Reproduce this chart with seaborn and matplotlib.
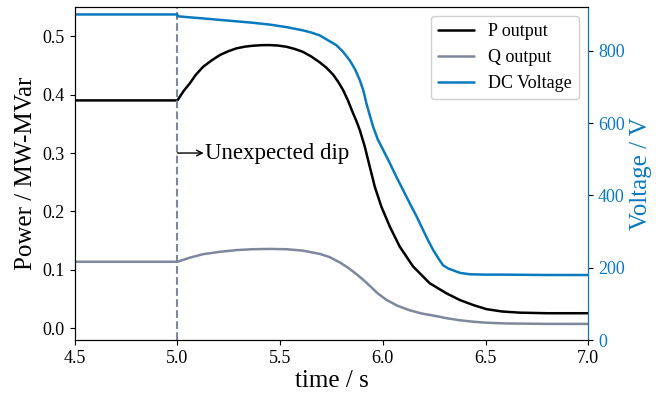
import numpy as np
import matplotlib
matplotlib.use("Agg")
import matplotlib.pyplot as plt
import seaborn as sns

# values
t_p = [4.5, 5.0, 5.03, 5.06, 5.09, 5.125, 5.165, 5.206, 5.247, 5.287, 5.33, 5.368,
       5.41, 5.449, 5.49, 5.531, 5.571, 5.611, 5.652, 5.693, 5.725, 5.758, 5.782, 5.806,
       5.83, 5.855, 5.872, 5.888, 5.912, 5.936, 5.961, 5.993, 6.034, 6.082, 6.147, 6.228,
       6.31, 6.374, 6.44, 6.504, 6.58, 6.666, 6.8, 7.0]
p_out = [0.39, 0.39, 0.406, 0.419, 0.434, 0.4475, 0.458, 0.4675, 0.474, 0.479, 0.482, 0.4835,
         0.4845, 0.4846, 0.4838, 0.4817, 0.478, 0.473, 0.465, 0.455, 0.446, 0.434, 0.422, 0.408,
         0.39, 0.368, 0.354, 0.339, 0.311, 0.277, 0.242, 0.208, 0.174, 0.140, 0.106, 0.0773,
         0.060, 0.0487, 0.040, 0.033, 0.029, 0.027, 0.026, 0.026]

t_q = [4.5, 5.0, 5.06, 5.125, 5.206, 5.287, 5.368, 5.449, 5.531, 5.611, 5.693, 5.741,
       5.79, 5.83, 5.871, 5.905, 5.936, 5.975, 6.017, 6.07, 6.131, 6.19, 6.261, 6.31,
       6.374, 6.44, 6.504, 6.6, 6.8, 7.0]
q_out = [0.114, 0.114, 0.121, 0.127, 0.131, 0.134, 0.1355, 0.136, 0.1355, 0.133, 0.1275, 0.122,
         0.113, 0.104, 0.093, 0.083, 0.073, 0.060, 0.049, 0.039, 0.031, 0.0255, 0.021, 0.0175,
         0.014, 0.0115, 0.0098, 0.0085, 0.0078, 0.0077]

t_v = [4.5, 5.0, 5.0, 5.06, 5.125, 5.206, 5.287, 5.368, 5.449, 5.531, 5.611, 5.652,
       5.693, 5.741, 5.774, 5.806, 5.839, 5.865, 5.888, 5.905, 5.92, 5.937, 5.953, 5.975,
       6.002, 6.034, 6.066, 6.1, 6.131, 6.165, 6.196, 6.22, 6.245, 6.27, 6.293, 6.318,
       6.342, 6.374, 6.423, 6.5, 6.585, 6.8, 7.0]
v_dc = [900, 900, 895, 892, 889, 885, 881, 877, 872, 865, 856, 850,
        842, 826, 815, 797, 773, 748, 718, 690, 654, 620, 589, 555,
        525, 489, 451, 413, 378, 341, 304, 276, 249, 226, 207, 198,
        193, 186, 182, 181, 181, 180, 180]

sns.set_style("ticks")
plt.rcParams['font.family'] = ['Liberation Serif', 'DejaVu Serif']
plt.rcParams.update({'text.color': 'black', 'axes.labelcolor': 'black',
                     'xtick.color': 'black', 'ytick.color': 'black',
                     'axes.edgecolor': 'black'})

blue = '#0a7abf'
grey = '#7f879c'

fig, ax = plt.subplots(figsize=(6.67, 4.03), dpi=100)
fig.subplots_adjust(left=0.112, right=0.882, top=0.983, bottom=0.156)
ax2 = ax.twinx()

sns.lineplot(x=t_p, y=p_out, ax=ax, color='black', lw=1.8, label='P output',
             estimator=None, sort=False, legend=False)
sns.lineplot(x=t_q, y=q_out, ax=ax, color=grey, lw=1.8, label='Q output',
             estimator=None, sort=False, legend=False)
sns.lineplot(x=t_v, y=v_dc, ax=ax2, color=blue, lw=1.8, label='DC Voltage',
             estimator=None, sort=False, legend=False)

ax.axvline(5.0, color=grey, ls='--', lw=1.5)
ax.annotate('', xy=(5.128, 0.30), xytext=(5.0, 0.30),
            arrowprops=dict(arrowstyle='->', color='black', lw=1.0, shrinkA=0, shrinkB=0))
ax.text(5.133, 0.30, 'Unexpected dip', fontsize=16.5, va='center')

ax.set_xlim(4.5, 7.0)
ax.set_ylim(-0.02, 0.55)
ax2.set_ylim(0, 921)
ax.set_xticks([4.5, 5.0, 5.5, 6.0, 6.5, 7.0])
ax.set_yticks([0.0, 0.1, 0.2, 0.3, 0.4, 0.5])
ax2.set_yticks([0, 200, 400, 600, 800])

ax.set_xlabel('time / s', fontsize=18, labelpad=2)
ax.set_ylabel('Power / MW-MVar', fontsize=18)
ax2.set_ylabel('Voltage / V', fontsize=18, color=blue)
ax.tick_params(labelsize=13)
ax2.tick_params(labelsize=13, labelcolor=blue)
ax2.spines['right'].set_color(blue)

h1, l1 = ax.get_legend_handles_labels()
h2, l2 = ax2.get_legend_handles_labels()
ax.legend(h1 + h2, l1 + l2, loc='upper right', fontsize=13, framealpha=1,
          edgecolor='#d0d0d0')

plt.savefig('out.png', dpi=100)
